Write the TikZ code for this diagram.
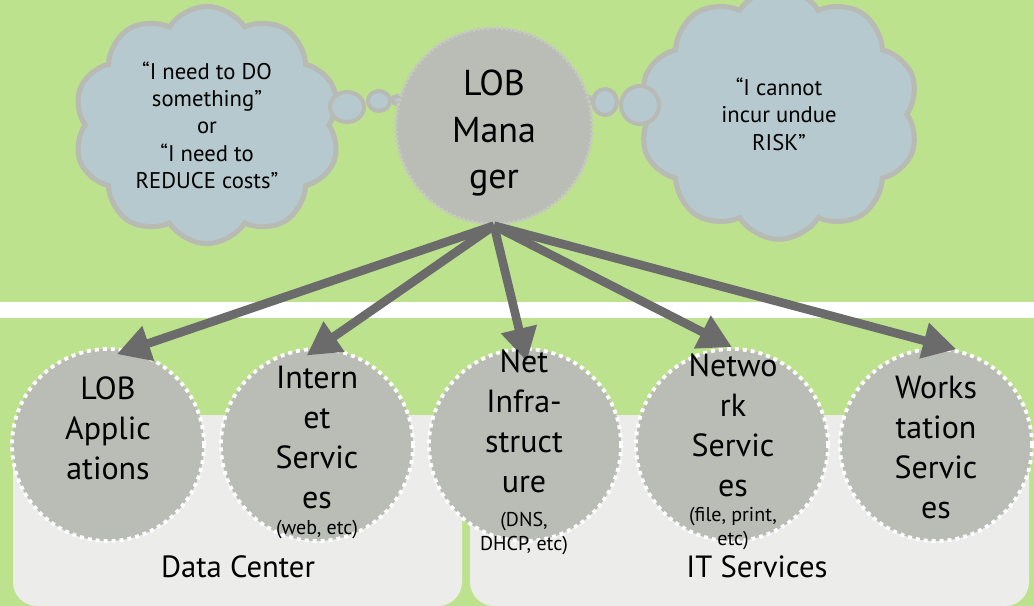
\documentclass[tikz,border=0pt]{standalone}
\usepackage{fontspec}
\setmainfont{PT Sans}
\usepackage{tikz}
\usetikzlibrary{shapes.symbols,arrows.meta}
\definecolor{bggreen}{RGB}{189,226,142}
\definecolor{boxgray}{RGB}{236,236,234}
\definecolor{cloudfill}{RGB}{181,201,207}
\definecolor{cloudline}{RGB}{184,186,180}
\definecolor{nodegray}{RGB}{186,188,182}
\definecolor{mgredge}{RGB}{198,200,194}
\definecolor{arrowgray}{RGB}{107,107,107}

\begin{document}
\begin{tikzpicture}[x=0.75pt,y=-0.75pt,
    svc/.style={circle,fill=nodegray,draw=white,line width=2.8pt,
        dash pattern=on 3pt off 3pt,minimum size=144pt,inner sep=0pt},
    mgr/.style={circle,fill=nodegray,draw=mgredge,line width=2.5pt,
        dash pattern=on 2pt off 1.5pt,minimum size=147pt,inner sep=0pt},
    mgrtext/.style={align=center,font=\fontsize{27}{35}\selectfont},
    svctext/.style={align=center,font=\fontsize{24}{30}\selectfont},
    smalltext/.style={align=center,font=\fontsize{15}{18}\selectfont},
    thought/.style={cloud,cloud puffs=10,cloud puff arc=115,cloud ignores aspect,
        fill=cloudfill,draw=cloudline,line width=3.75pt,align=center,
        font=\fontsize{17}{20.5}\selectfont},
    bubble/.style={fill=cloudfill,draw=cloudline,line width=3pt},
    arr/.style={draw=arrowgray,line width=6.5pt,-{Triangle[length=25pt,width=26pt]}},
    area/.style={fill=boxgray,rounded corners=18pt},
    arealabel/.style={font=\fontsize{23}{28}\selectfont}]

    % Background
    \useasboundingbox (0,0) rectangle (1034,606);
    \fill[bggreen] (0,0) rectangle (1034,606);
    \fill[white] (0,302) rectangle (1034,318);

    % Areas
    \fill[area] (13,415) rectangle (462,606);
    \fill[area] (470,415) rectangle (1029,606);
    \node[arealabel] (dclabel) at (238,567) {Data Center};
    \node[arealabel] (itlabel) at (757,567) {IT Services};

    % Thought clouds
    \node[thought,minimum width=200pt,minimum height=178pt] (wish) at (207,125)
        {“I need to DO\\something”\\or\\“I need to\\REDUCE costs”};
    \node[thought,minimum width=210pt,minimum height=188pt] (fear) at (779,114)
        {“I cannot\\incur undue\\RISK”};
    \draw[bubble] (347,107) ellipse [x radius=17, y radius=15];
    \draw[bubble] (379,101) ellipse [x radius=11, y radius=10];
    \draw[bubble] (397,100) ellipse [x radius=5, y radius=4];
    \draw[bubble] (640,105) ellipse [x radius=19, y radius=19];
    \draw[bubble] (605,102) ellipse [x radius=12, y radius=13];
    \draw[bubble] (586,100) ellipse [x radius=5, y radius=4];

    % Manager
    \node[mgr] (mgr) at (494,126) {};
    \node[mgrtext] (mgrtext) at (494,133) {LOB\\Mana\\ger};

    % Services
    \node[svc] (app) at (108,445) {};
    \node[svc] (inet) at (317,445) {};
    \node[svc] (infra) at (525,445) {};
    \node[svc] (netsvc) at (732,445) {};
    \node[svc] (ws) at (936,445) {};

    % Arrows
    \draw[arr,shorten >=-10.5pt] (mgr.south) -- (app.77);
    \draw[arr,shorten >=-11pt] (mgr.south) -- (inet.89);
    \draw[arr,shorten >=-11pt] (mgr.south) -- (infra.91);
    \draw[arr] (mgr.south) -- (netsvc.90);
    \draw[arr] (mgr.south) -- (ws.78);

    % Labels
    \node[svctext] (apptext) at (108,428) {LOB\\Applic\\ations};
    \node[svctext] (inettext) at (317,437) {Intern\\et\\Servic\\es};
    \node[smalltext] (inetnote) at (317,530) {(web, etc)};
    \node[svctext] (infratext) at (524,421) {Net\\Infra-\\struct\\ure};
    \node[smalltext] (infranote) at (524,534) {(DNS,\\DHCP, etc)};
    \node[svctext] (netsvctext) at (733,425) {Netwo\\rk\\Servic\\es};
    \node[smalltext] (netsvcnote) at (733,529) {(file, print,\\etc)};
    \node[svctext] (wstext) at (936,447) {Works\\tation\\Servic\\es};
\end{tikzpicture}
\end{document}
